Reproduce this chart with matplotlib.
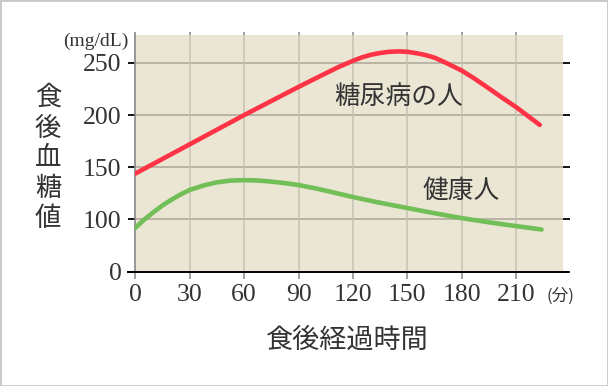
import matplotlib
matplotlib.use("Agg")
import matplotlib.pyplot as plt
from matplotlib.patches import Rectangle

# ---- data ----
red_x = [0, 15, 30, 45, 60, 75, 90, 105, 112, 120, 125, 130, 135, 140, 145, 150,
         155, 160, 165, 172, 180, 187, 195, 202, 210, 217, 223]
red_y = [144, 158, 172, 186, 200, 213.5, 227, 240, 246, 252, 255.3, 257.8, 259.5,
         260.6, 261, 260.6, 259.3, 257.5, 255, 249.5, 242.6, 235, 225.5, 217,
         207.6, 198.5, 190.6]
green_x = [0, 5, 10, 15, 20, 25, 30, 38, 45, 52, 60, 68, 75, 82, 90, 100, 110,
           120, 135, 150, 165, 180, 195, 210, 224]
green_y = [92, 100, 107, 113.5, 119, 124, 128.3, 132.8, 135.6, 137.2, 137.7,
           137.3, 136.3, 134.9, 133, 129.6, 125.6, 121.5, 116, 111, 106, 101.3,
           97.3, 93.7, 90.4]
x_ticks = [0, 30, 60, 90, 120, 150, 180, 210]
y_tick_values = [0, 100, 150, 200, 250]
y_tick_labels = ["0", "100", "150", "200", "250"]
red_label = "糖尿病の人"
green_label = "健康人"
y_title = "食後血糖値"
x_title = "食後経過時間"

CJK = ["Noto Sans CJK JP", "DejaVu Sans"]
NUM = "Liberation Serif"
TXT = "#333333"

W, H = 608, 386
fig = plt.figure(figsize=(W / 100, H / 100), dpi=100)
fig.patch.set_facecolor("white")
fig.patches.append(Rectangle((0, 0), 1, 1, transform=fig.transFigure,
                             fill=False, edgecolor="#c8c8c8", linewidth=2))

left, right, top, bottom = 135.3, 563.3, 34.7, 271.7
ax = fig.add_axes([left / W, 1 - bottom / H, (right - left) / W, (bottom - top) / H])
ax.set_facecolor("#ebe6d4")

# broken axis: the "0" tick sits where 50 would be
y_pos = [50 if v == 0 else v for v in y_tick_values]
ax.set_xlim(0, 236)
ax.set_ylim(50, 277)

for v in y_pos[1:]:
    ax.axhline(v, color="#aaa698", linewidth=1.1, zorder=1)
for v in x_ticks[1:]:
    ax.axvline(v, color="#c6c3b3", linewidth=1.1, zorder=1)

ax.plot(red_x, red_y, color="#ff3346", linewidth=3.3, solid_capstyle="round",
        solid_joinstyle="round", zorder=3)
ax.plot(green_x, green_y, color="#72be57", linewidth=3.3, solid_capstyle="round",
        solid_joinstyle="round", zorder=3)

ax.text(145.4, 217.4, red_label, fontsize=18.5, family=CJK, color=TXT,
        ha="center", va="center", zorder=4)
ax.text(179.6, 127.5, green_label, fontsize=18.5, family=CJK, color=TXT,
        ha="center", va="center", zorder=4)

for s in ["top", "right", "bottom"]:
    ax.spines[s].set_visible(False)
ax.spines["left"].set_color("#888888")
ax.spines["left"].set_linewidth(1.2)

ax.set_xticks(x_ticks)
ax.set_xticklabels([str(v) for v in x_ticks], fontfamily=NUM, fontsize=18.5, color=TXT)
ax.set_yticks(y_pos)
ax.set_yticklabels(y_tick_labels, fontfamily=NUM, fontsize=18.5, color=TXT)
ax.tick_params(axis="x", direction="out", length=5, width=1.1, color="#888888", pad=4,
               top=True)
ax.tick_params(axis="y", direction="out", length=5, width=1.3, color="black", pad=5,
               right=True)

# bottom axis line extending slightly beyond the plot area
ax.plot([-0.017, 1.009], [0, 0], transform=ax.transAxes, color="black",
        linewidth=1.4, clip_on=False, zorder=5)

# top ticks in grid colour
for t in ax.xaxis.get_major_ticks():
    t.tick2line.set_color("#c6c3b3")
    t.tick2line.set_markersize(2)

# units
fig.text(128 / W, 1 - 41 / H, "(mg/dL)", fontfamily=NUM, fontsize=14, color=TXT,
         ha="right", va="center")
fig.text(546 / W, 1 - 296 / H, "(分)", family=CJK, fontsize=12, color=TXT,
         ha="left", va="center")

# stacked y title
centers = [97.5, 128, 158, 188.5, 219]
for ch, cy in zip(y_title, centers):
    fig.text(48 / W, 1 - cy / H, ch, family=CJK, fontsize=19, color=TXT,
             ha="center", va="center")

fig.text(347.5 / W, 1 - 340 / H, x_title, family=CJK, fontsize=19.5, color=TXT,
         ha="center", va="center")

fig.savefig("out.png", dpi=100, facecolor="white")
